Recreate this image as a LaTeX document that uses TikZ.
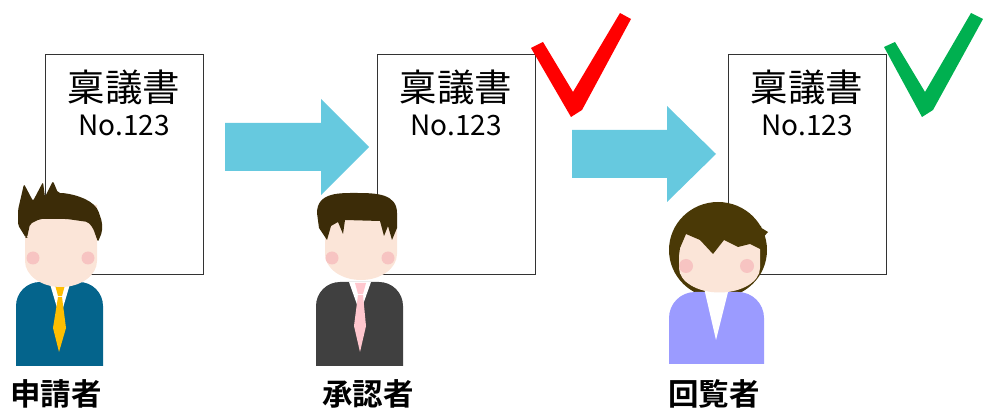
\documentclass[tikz,border=0pt]{standalone}
\usepackage{fontspec}
\setmainfont{Noto Sans CJK JP}[BoldFont={Noto Sans CJK JP Bold}]
\usetikzlibrary{positioning,calc}

\definecolor{flowblue}{HTML}{66C9DF}
\definecolor{suitblue}{HTML}{04648C}
\definecolor{suitgray}{HTML}{404040}
\definecolor{blouse}{HTML}{9B9BFF}
\definecolor{tieyellow}{HTML}{FFBE00}
\definecolor{tiepink}{HTML}{FFC7CE}
\definecolor{hairman}{HTML}{3C2C08}
\definecolor{hairwoman}{HTML}{4A3906}
\definecolor{skin}{HTML}{FBE5D8}
\definecolor{cheek}{HTML}{F7C4C2}
\definecolor{okred}{HTML}{FF0000}
\definecolor{okgreen}{HTML}{00B050}

\begin{document}
\begin{tikzpicture}[x=1pt,y=-1pt,
  docbox/.style={draw=black!80,line width=0.8pt,minimum width=158pt,minimum height=220pt,inner sep=0pt},
  doctitle/.style={font=\fontsize{37.5}{40}\selectfont,inner sep=0pt},
  docno/.style={font=\fontsize{28}{30}\selectfont,inner sep=0pt},
  role/.style={font=\bfseries\fontsize{30.5}{34}\selectfont,inner sep=0pt},
  flowarrow/.style={fill=flowblue}]
\useasboundingbox (0,0) rectangle (983,411);

% the three documents
\node[docbox] (doc1) at (124,164) {};
\node[docbox] (doc2) at (456,164) {};
\node[docbox] (doc3) at (807,164) {};
\foreach \d in {doc1,doc2,doc3} {
  \node[doctitle] (\d-title) at ($(\d.north)+(0,34)$) {稟議書};
  \node[docno] (\d-no) at ($(\d.north)+(0,72)$) {No.123};
}

% flow arrows
\fill[flowarrow] (225,123) -- (321,123) -- (321,99) -- (369,147) -- (321,195) -- (321,171) -- (225,171) -- cycle;
\fill[flowarrow] (572,130) -- (667,130) -- (667,106) -- (716,154) -- (667,202) -- (667,178) -- (572,178) -- cycle;

% check marks
\fill[okred] (531,48) -- (543,42) -- (573,92) -- (620,13) -- (631,19) -- (582,110) -- (571,117) -- cycle;
\fill[okgreen] (884,47) -- (895,42) -- (925,92) -- (971,13) -- (983,19) -- (933,110) -- (922,117) -- cycle;

% applicant
\fill[suitblue] (16,366) -- (16,306) arc[start angle=180,end angle=270,radius=24] -- (79,282) arc[start angle=270,end angle=360,radius=24] -- (103,366) -- cycle;
\fill[white] (50,284) -- (70,284) -- (60,318) -- cycle;
\fill[tieyellow] (55,285) -- (65,285) -- (62,296) -- (58,296) -- cycle;
\fill[tieyellow] (58,297) -- (62,297) -- (66,328) -- (59,352) -- (53,328) -- cycle;
\fill[skin] (25,205) -- (25,261) arc[start angle=180,end angle=0,x radius=36,y radius=26] -- (97,205) -- cycle;
\fill[hairman,rounded corners=2] (26,238) -- (18,225) -- (18,210) -- (24,184) -- (33,201) -- (43,182) -- (45,197) -- (53,181) -- (58,193) .. controls (70,193) and (90,198) .. (98,210) -- (102,222) -- (102,232) -- (98,242) -- (93,228) -- (88,222) -- (67,219) -- (40,219) -- (30,224) -- (27,238) -- cycle;
\fill[cheek] (33,258) circle[radius=6.5] (88,258) circle[radius=6.5];

% approver
\fill[suitgray] (316,366) -- (316,306) arc[start angle=180,end angle=270,radius=24] -- (379,282) arc[start angle=270,end angle=360,radius=24] -- (403,366) -- cycle;
\fill[white] (349,282) -- (371,282) -- (360,313) -- cycle;
\fill[tiepink] (355,283) -- (366,283) -- (363,294) -- (358,294) -- cycle;
\fill[tiepink] (358,295) -- (363,295) -- (366,326) -- (360,352) -- (354,326) -- cycle;
\fill[skin] (325,210) -- (325,254) arc[start angle=180,end angle=0,x radius=36,y radius=26] -- (397,210) -- cycle;
\fill[hairman] (327,240) -- (319,228) -- (317,213) .. controls (317,192) and (340,193) .. (357,193) .. controls (377,193) and (397,194) .. (397,213) -- (397,228) -- (392,240) -- (388,226) -- (384,236) -- (380,221) -- (345,220) -- (343,234) -- (338,222) -- (331,226) -- cycle;
\fill[cheek] (332,258) circle[radius=6.5] (388,258) circle[radius=6.5];

% viewer
\fill[hairwoman] (718,250) ellipse[x radius=49,y radius=48];
\fill[hairwoman] (755,224) -- (768,232) -- (760,241) -- cycle;
\fill[blouse] (669,364) -- (669,318) arc[start angle=180,end angle=270,radius=26] -- (738,292) arc[start angle=270,end angle=360,radius=26] -- (764,364) -- cycle;
\fill[white] (704,288) -- (729,288) -- (716,340) -- cycle;
\fill[skin] (679,230) -- (679,268) arc[start angle=180,end angle=0,x radius=40.5,y radius=24.5] -- (760,230) -- cycle;
\fill[hairwoman] (676,226) -- (761,226) -- (762,250) -- (750,244) -- (738,247) -- (724,240) -- (713,254) -- (700,240) -- (686,234) -- (680,248) -- (678,262) -- cycle;
\fill[cheek] (686,266) circle[radius=7] (747,266) circle[radius=7];

% role labels
\node[role] (applicant) at (56,394) {申請者};
\node[role] (approver) at (368,394) {承認者};
\node[role] (viewer) at (714,394) {回覧者};
\end{tikzpicture}
\end{document}
